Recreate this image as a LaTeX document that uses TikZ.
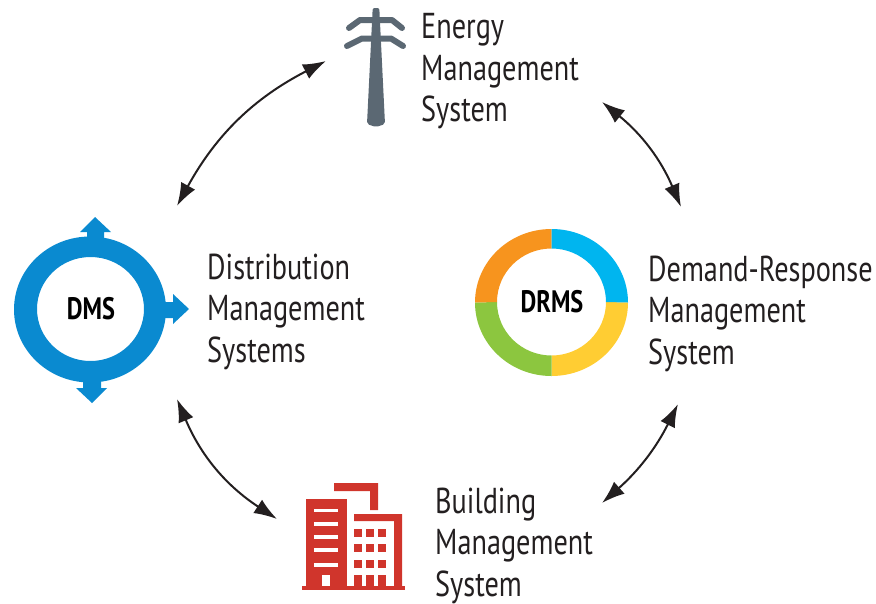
\documentclass[tikz,border=0pt]{standalone}
\usepackage{fontspec}
\setmainfont[FakeStretch=0.785]{PT Sans}
\usetikzlibrary{arrows.meta,calc}
\definecolor{dmsblue}{HTML}{0A8AD0}
\definecolor{drmscyan}{HTML}{00B5EF}
\definecolor{drmsyellow}{HTML}{FFCD33}
\definecolor{drmsgreen}{HTML}{8CC63F}
\definecolor{drmsorange}{HTML}{F7941E}
\definecolor{pylongray}{HTML}{5B6873}
\definecolor{buildred}{HTML}{D0352C}
\definecolor{inkblack}{HTML}{231F20}
\tikzset{
  sysarrow/.style={<->,line width=2pt,inkblack,>={Latex[length=23pt,width=16pt]}},
  syslabel/.style={anchor=west,align=left,inner sep=0pt,text=inkblack,font=\fontsize{36}{41.5}\selectfont},
  ringlabel/.style={inner sep=0pt,text=black,font=\bfseries\fontsize{31}{31}\selectfont},
}
\begin{document}
\begin{tikzpicture}[x=1pt,y=-1pt]
  \useasboundingbox (0,0) rectangle (876,603);
  % pylon
  \fill[pylongray,rounded corners=2pt] (372.7,8) -- (379.3,8) -- (385,124) -- (376,127) -- (367,124) -- cycle;
  \draw[pylongray,line width=6pt,line cap=round,line join=round] (349,28) -- (360,20) -- (392,20) -- (402,28);
  \draw[pylongray,line width=6pt,line cap=round,line join=round] (347,46) -- (362,38.5) -- (391,38.5) -- (403,46);
  % building
  \fill[buildred] (302,586) rectangle (405,590);
  \fill[buildred] (306,499) rectangle (347,586);
  \fill[buildred] (334,483) -- (378,483) -- (378,510) -- (370,510) -- (370,491) -- (334,491) -- cycle;
  \fill[buildred] (354,514) -- (402,514) -- (402,586) -- (394,586) -- (394,521) -- (354,521) -- cycle;
  \foreach \y in {508.5,522,535,548,563}
    \fill[white] (314,\y) rectangle (338,\y+3.6);
  \fill[white] (322,575) rectangle (330,586);
  \foreach \x in {354,366,378} {
    \foreach \y in {529,544,560}
      \fill[buildred] (\x,\y) rectangle (\x+8,\y+8);
    \fill[buildred] (\x,575) rectangle (\x+8,586);
  }
  % dms ring
  \fill[dmsblue] (87,240) -- (87,232) -- (80,232) -- (95,217) -- (111,232) -- (104,232) -- (104,240) -- cycle;
  \fill[dmsblue] (160,302) -- (173,302) -- (173,294) -- (189,309) -- (173,324) -- (173,318) -- (160,318) -- cycle;
  \fill[dmsblue] (83,380) -- (83,388) -- (76,388) -- (92,403) -- (107,388) -- (101,388) -- (101,380) -- cycle;
  \fill[dmsblue,even odd rule] (90,309.5) ellipse[x radius=76,y radius=73] (90.5,309) ellipse[x radius=53.5,y radius=52];
  \node[ringlabel] (dms) at (91,308.5) {DMS};
  % drms ring
  \foreach \from/\to/\col in {0/90/drmsyellow,90/180/drmsgreen,180/270/drmsorange,270/360/drmscyan}
    \fill[\col] (551.5,302.5) ++(\from:76.5 and 73.5) arc[start angle=\from,end angle=\to,x radius=76.5,y radius=73.5]
      -- ($(551.5,302)+(\to:54.5 and 53.5)$) arc[start angle=\to,end angle=\from,x radius=54.5,y radius=53.5] -- cycle;
  \node[ringlabel] (drms) at (552,301.5) {DRMS};
  % labels
  \node[syslabel] (ems) at (421,71.5) {Energy\\Management\\System};
  \node[syslabel] (dist) at (207,311.5) {Distribution\\Management\\Systems};
  \node[syslabel] (drmsl) at (648,313.5) {Demand-Response\\Management\\System};
  \node[syslabel] (bms) at (435,545.5) {Building\\Management\\System};
  % arrows
  \coordinate (emsw) at (326,61);
  \coordinate (dmsn) at (177,206);
  \coordinate (emse) at (602,102);
  \coordinate (drmsn) at (681,207);
  \coordinate (dmss) at (177,399);
  \coordinate (bmsw) at (277,519);
  \coordinate (drmss) at (678,404);
  \coordinate (bmse) at (602,503);
  \draw[sysarrow] (emsw) to[bend right=17] (dmsn);
  \draw[sysarrow] (emse) to[bend left=14] (drmsn);
  \draw[sysarrow] (dmss) to[bend right=17] (bmsw);
  \draw[sysarrow] (drmss) to[bend left=11] (bmse);
\end{tikzpicture}
\end{document}
